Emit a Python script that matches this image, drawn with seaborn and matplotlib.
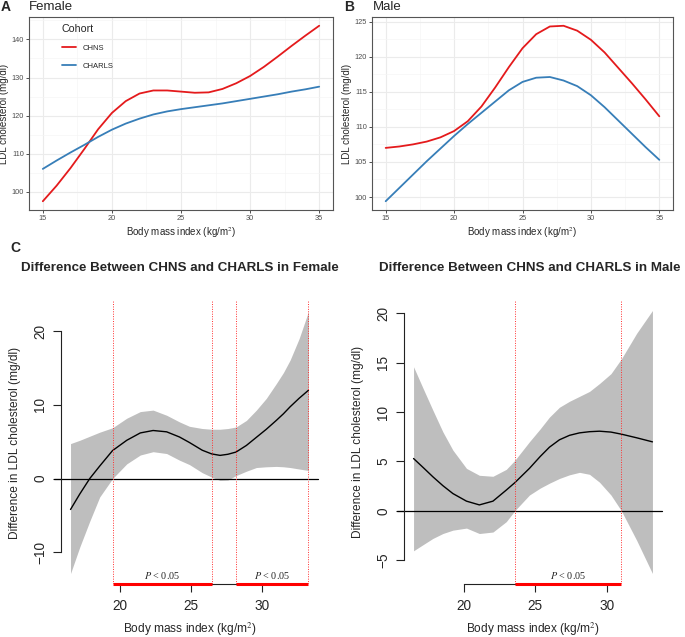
import numpy as np
import pandas as pd
import matplotlib
matplotlib.use("Agg")
import matplotlib.pyplot as plt
import seaborn as sns

# ---- data ----
bmi = list(range(15, 36))

female_chns = [97.5, 101.6, 106.2, 111.2, 116.4, 120.7, 123.8, 125.8, 126.6, 126.6, 126.3,
               126.0, 126.1, 127.0, 128.5, 130.4, 132.8, 135.5, 138.3, 141.0, 143.6]
female_charls = [106.0, 108.2, 110.3, 112.3, 114.4, 116.3, 117.9, 119.2, 120.3, 121.1, 121.7,
                 122.2, 122.7, 123.2, 123.8, 124.4, 125.0, 125.6, 126.3, 126.9, 127.6]
male_chns = [107.0, 107.2, 107.5, 107.9, 108.5, 109.4, 110.8, 112.9, 115.6, 118.5, 121.2,
             123.2, 124.3, 124.4, 123.7, 122.4, 120.6, 118.4, 116.2, 113.9, 111.5]
male_charls = [99.4, 101.3, 103.2, 105.1, 106.9, 108.7, 110.4, 112.0, 113.6, 115.2, 116.4,
               117.0, 117.1, 116.6, 115.8, 114.5, 112.8, 110.9, 109.0, 107.1, 105.3]

# difference curves (CHNS - CHARLS) with 95% band
f_bmi = [16.55, 17.2, 17.9, 18.6, 19.5, 20.5, 21.45, 22.35, 23.3, 24.2, 24.9, 25.8,
         26.46, 27.05, 27.6, 28.17, 28.9, 29.6, 30.3, 31.0, 31.5, 31.97, 32.6, 33.26]
f_diff = [-4.2, -2.1, 0.0, 1.7, 3.8, 5.2, 6.2, 6.53, 6.35, 5.65, 4.9, 3.85,
          3.35, 3.15, 3.3, 3.6, 4.5, 5.6, 6.7, 7.9, 8.8, 9.75, 10.9, 12.0]
f_upper = [4.75, 5.2, 5.75, 6.3, 6.9, 8.2, 9.1, 9.3, 8.6, 7.7, 7.1, 6.8,
           6.7, 6.7, 6.8, 7.0, 7.9, 9.3, 10.9, 12.9, 14.4, 16.1, 19.0, 22.7]
f_lower = [-12.9, -9.3, -5.8, -2.5, 0.0, 2.0, 3.2, 3.65, 3.4, 2.5, 1.9, 0.8,
           0.2, -0.25, -0.2, 0.4, 1.0, 1.5, 1.6, 1.65, 1.6, 1.5, 1.3, 1.1]
f_cuts = [19.5, 26.46, 28.17, 33.26]
f_sig = [(19.5, 26.46), (28.17, 33.26)]

m_bmi = [16.5, 17.2, 17.85, 18.55, 19.25, 20.2, 21.1, 22.05, 22.98, 23.57, 24.6,
         25.35, 26.0, 26.7, 27.4, 28.1, 28.8, 29.5, 30.3, 31.03, 32.1, 33.2]
m_diff = [5.3, 4.35, 3.45, 2.55, 1.75, 0.98, 0.6, 0.98, 2.1, 2.84, 4.3,
          5.5, 6.45, 7.2, 7.65, 7.9, 8.02, 8.07, 7.98, 7.77, 7.4, 6.99]
m_upper = [14.6, 12.3, 10.2, 8.0, 6.15, 4.3, 3.6, 3.5, 4.2, 5.1, 7.0,
           8.3, 9.5, 10.5, 11.1, 11.6, 12.1, 12.9, 13.9, 15.4, 18.0, 20.3]
m_lower = [-4.05, -3.4, -2.8, -2.3, -1.96, -1.75, -2.3, -2.15, -1.1, 0.0, 1.6,
           2.3, 2.8, 3.28, 3.65, 3.9, 3.7, 2.9, 1.6, 0.0, -3.0, -6.35]
m_cuts = [23.57, 31.03]
m_sig = [(23.57, 31.03)]

cohorts = ["CHNS", "CHARLS"]
palette = {"CHNS": "#E41A1C", "CHARLS": "#377EB8"}

sns.set_theme(style="white")
plt.rcParams['font.family'] = ['Liberation Sans', 'DejaVu Sans']
plt.rcParams['mathtext.fontset'] = 'stix'

fig = plt.figure(figsize=(6.85, 6.37), dpi=100)
W, H = 685, 637


def px_axes(l, t, r, b):
    return fig.add_axes([l / W, 1 - b / H, (r - l) / W, (b - t) / H])


def gg_panel(ax, chns, charls, ylim, yticks, yminor, legend):
    df = pd.DataFrame({"bmi": bmi * 2, "ldl": chns + charls,
                       "Cohort": ["CHNS"] * len(bmi) + ["CHARLS"] * len(bmi)})
    sns.lineplot(data=df, x="bmi", y="ldl", hue="Cohort", hue_order=cohorts,
                 palette=palette, linewidth=1.3, ax=ax, legend=legend)
    ax.set_xlim(14, 36)
    ax.set_ylim(*ylim)
    ax.set_xticks([15, 20, 25, 30, 35])
    ax.set_xticks([17.5, 22.5, 27.5, 32.5], minor=True)
    ax.set_yticks(yticks)
    ax.set_yticks(yminor, minor=True)
    ax.grid(True, which="major", color="#EBEBEB", linewidth=0.8)
    ax.grid(True, which="minor", color="#F5F5F5", linewidth=0.5)
    ax.set_axisbelow(True)
    for s in ax.spines.values():
        s.set_visible(True)
        s.set_color("#555555")
        s.set_linewidth(0.8)
    ax.tick_params(axis="both", which="major", labelsize=5.3, labelcolor="#4D4D4D",
                   length=2, width=0.6, color="#333333", pad=1.5, bottom=True, left=True)
    ax.tick_params(which="minor", length=0)
    ax.set_xlabel("Body mass index (kg/m$^2$)", fontsize=7, labelpad=2)
    ax.set_ylabel("LDL cholesterol (mg/dl)", fontsize=7, labelpad=2)
    if legend:
        leg = ax.legend(title="Cohort", loc="upper left", bbox_to_anchor=(0.09, 0.99),
                        frameon=False, fontsize=5.5, title_fontsize=7.7, handlelength=1.9,
                        handletextpad=0.9, labelspacing=1.35, borderaxespad=0.3)
        leg._legend_box.align = "left"


axA = px_axes(29, 17, 333, 210)
gg_panel(axA, female_chns, female_charls, (95.2, 145.9), [100, 110, 120, 130, 140],
         [105, 115, 125, 135, 145], "auto")
axB = px_axes(372, 17, 673, 210)
gg_panel(axB, male_chns, male_charls, (98.15, 125.65), [100, 105, 110, 115, 120, 125],
         [102.5, 107.5, 112.5, 117.5, 122.5], False)

fig.text(1 / W, 1 - 7 / H, "A", fontsize=10, fontweight="bold", va="center")
fig.text(29 / W, 1 - 7 / H, "Female", fontsize=9.5, va="center")
fig.text(344 / W, 1 - 7 / H, "B", fontsize=10, fontweight="bold", va="center")
fig.text(373 / W, 1 - 7 / H, "Male", fontsize=9.5, va="center")


def diff_panel(ax, xs, mid, lo, hi, cuts, sig, yticks):
    ax.fill_between(xs, lo, hi, color="#BEBEBE", linewidth=0)
    sns.lineplot(x=xs, y=mid, color="black", linewidth=1.0, ax=ax)
    pad_x = (xs[-1] - xs[0]) * 0.04
    pad_y = (max(hi) - min(lo)) * 0.04
    ax.set_xlim(xs[0] - pad_x, xs[-1] + pad_x)
    ax.set_ylim(min(lo) - pad_y, max(hi) + pad_y)
    ax.plot([-0.027, 1], [0, 0], color="black", linewidth=0.9,
            transform=ax.get_yaxis_transform(), clip_on=False)
    for c in cuts:
        ax.axvline(c, color="#FF3030", linestyle=(0, (1, 1.5)), linewidth=0.7)
    for a, b in sig:
        ax.plot([a, b], [0, 0], color="#FF0000", linewidth=2.2, solid_capstyle="butt",
                transform=ax.get_xaxis_transform(), clip_on=False, zorder=5)
        ax.text((a + b) / 2, 0.012, r"$P$ < 0.05", transform=ax.get_xaxis_transform(),
                ha="center", va="bottom", fontsize=7.3, family="Liberation Serif")
    for s in ["top", "right"]:
        ax.spines[s].set_visible(False)
    ax.spines["left"].set_bounds(yticks[0], yticks[-1])
    ax.spines["bottom"].set_bounds(20, 30)
    for s in ["left", "bottom"]:
        ax.spines[s].set_color("#222222")
        ax.spines[s].set_linewidth(0.8)
    ax.set_xticks([20, 25, 30])
    ax.set_yticks(yticks)
    ax.set_yticklabels([str(v).replace("-", "\u2212") for v in yticks], rotation=90, va="center")
    ax.tick_params(axis="both", labelsize=9.8, length=6, width=0.8, color="#222222",
                   bottom=True, left=True)
    ax.tick_params(axis="x", pad=5)
    ax.tick_params(axis="y", pad=4)
    ax.set_xlabel("Body mass index (kg/m$^2$)", fontsize=8.6, labelpad=5)
    ax.set_ylabel("Difference in LDL cholesterol (mg/dl)", fontsize=8.6, labelpad=9)


axC1 = px_axes(61, 301, 318, 584)
diff_panel(axC1, f_bmi, f_diff, f_lower, f_upper, f_cuts, f_sig, [-10, 0, 10, 20])
axC2 = px_axes(404, 300, 662, 584)
diff_panel(axC2, m_bmi, m_diff, m_lower, m_upper, m_cuts, m_sig, [-5, 0, 5, 10, 15, 20])

fig.text(10 / W, 1 - 248 / H, "C", fontsize=10, fontweight="bold", va="center")
fig.text(21 / W, 1 - 268 / H, "Difference Between CHNS and CHARLS in Female",
         fontsize=9.6, fontweight="bold", va="center")
fig.text(379 / W, 1 - 268 / H, "Difference Between CHNS and CHARLS in Male",
         fontsize=9.6, fontweight="bold", va="center")

fig.savefig("out.png", dpi=100)
